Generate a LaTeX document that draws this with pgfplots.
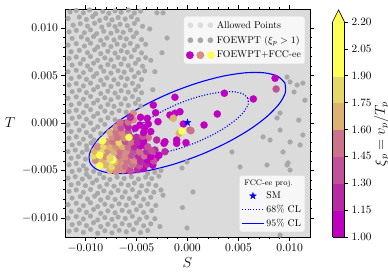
\documentclass[border=0pt]{standalone}
\usepackage{fix-cm}
\usepackage{pgfplots}
\pgfplotsset{compat=1.18}
\definecolor{bgallow}{RGB}{219,219,219}
\definecolor{foegray}{RGB}{168,168,168}
\definecolor{alwlg}{RGB}{220,220,220}
\definecolor{lgfill}{RGB}{247,247,247}
\definecolor{lgborder}{RGB}{226,226,226}
\definecolor{cA}{RGB}{192,0,192}
\definecolor{cB}{RGB}{184,42,164}
\definecolor{cC}{RGB}{194,80,155}
\definecolor{cD}{RGB}{204,114,141}
\definecolor{cE}{RGB}{213,142,127}
\definecolor{cF}{RGB}{221,178,113}
\definecolor{cG}{RGB}{230,216,104}
\definecolor{cH}{RGB}{255,255,85}
\pgfdeclareplotmark{fstar}{%
  \pgfpathmoveto{\pgfpointpolar{90}{\pgfplotmarksize}}%
  \pgfpathlineto{\pgfpointpolar{126}{0.4\pgfplotmarksize}}%
  \pgfpathlineto{\pgfpointpolar{162}{\pgfplotmarksize}}%
  \pgfpathlineto{\pgfpointpolar{198}{0.4\pgfplotmarksize}}%
  \pgfpathlineto{\pgfpointpolar{234}{\pgfplotmarksize}}%
  \pgfpathlineto{\pgfpointpolar{270}{0.4\pgfplotmarksize}}%
  \pgfpathlineto{\pgfpointpolar{306}{\pgfplotmarksize}}%
  \pgfpathlineto{\pgfpointpolar{342}{0.4\pgfplotmarksize}}%
  \pgfpathlineto{\pgfpointpolar{18}{\pgfplotmarksize}}%
  \pgfpathlineto{\pgfpointpolar{54}{0.4\pgfplotmarksize}}%
  \pgfpathclose
  \pgfusepathqfillstroke
}
\begin{document}
\begin{tikzpicture}
\useasboundingbox (-65pt,-39pt) rectangle (323pt,237pt);
\begin{axis}[
  at={(0,0)}, anchor=south west,
  width=245pt, height=228pt, scale only axis,
  xmin=-12, xmax=12, ymin=-12, ymax=12,
  axis background/.style={fill=bgallow},
  axis line style={line width=0.6pt},
  xtick={-10,-5,0,5,10},
  xticklabels={$-0.010$,$-0.005$,$0.000$,$0.005$,$0.010$},
  ytick={-10,-5,0,5,10},
  yticklabels={$-0.010$,$-0.005$,$0.000$,$0.005$,$0.010$},
  minor tick num=4,
  tick align=outside,
  major tick length=3.5pt, minor tick length=2pt,
  tick style={black, line width=0.6pt},
  ticklabel style={font=\fontsize{11.7}{13}\selectfont},
  xlabel={$S$}, ylabel={$T$},
  label style={font=\fontsize{14.5}{16}\selectfont},
  xlabel style={at={(axis description cs:0.5,-0.11)}, anchor=center},
  ylabel style={at={(axis description cs:-0.224,0.5)}, anchor=center, rotate=-90},
  colormap={fcc}{rgb255=(192,0,192) rgb255=(184,42,164) rgb255=(194,80,155) rgb255=(204,114,141) rgb255=(213,142,127) rgb255=(221,178,113) rgb255=(230,216,104) rgb255=(255,255,85) rgb255=(255,255,85)},
  colormap access=piecewise constant,
  point meta min=1, point meta max=2.2,
  colorbar sampled={surf,mark=none,shader=flat mean},
  colorbar style={
    at={(parent axis.south east)}, anchor=south west, xshift=14pt,
    width=12pt, height=215pt, scale only axis,
    samples=9,
    axis background/.style={},
    xtick=\empty, xlabel={}, minor tick num=0,
    ytick={1,1.15,1.3,1.45,1.6,1.75,1.9,2.05,2.2},
    yticklabels={$1.00$,$1.15$,$1.30$,$1.45$,$1.60$,$1.75$,$1.90$,$2.05$,$2.20$},
    yticklabel pos=right, ytick pos=right,
    tick align=outside, major tick length=3.5pt,
    ticklabel style={font=\fontsize{11.2}{13}\selectfont},
    ylabel={$\xi_p = v_p/T_p$},
    every axis y label/.style={at={(axis description cs:1,0.48)}, xshift=37pt, anchor=center, rotate=90, font=\fontsize{14.5}{16}\selectfont},
    after end axis/.code={
      \fill[cH] ([xshift=0.4pt,yshift=-0.6pt]rel axis cs:0,1) rectangle ([xshift=-0.4pt,yshift=0.6pt]rel axis cs:1,1);
      \filldraw[fill=cH, draw=black, line width=0.6pt] (rel axis cs:0,1) -- (rel axis cs:0.5,1.056) -- (rel axis cs:1,1);
    },
  },
  legend style={at={(0.98,0.968)}, anchor=north east, font=\fontsize{9.8}{11.5}\selectfont,
    fill=lgfill, draw=lgborder, rounded corners=2.5pt, inner xsep=2pt, inner ysep=2.5pt, row sep=2.3pt},
  legend cell align=left,
]
% FOEWPT (xi_p > 1) points excluded by FCC-ee
\addplot[only marks, mark=*, mark size=2.4pt, mark options={draw=foegray, fill=foegray, line width=0.2pt}, forget plot] coordinates {
(-11.5,11.7) (-10.9,11.85) (-10.2,11.6) (-9.6,11.9) (-9.0,11.5) (-8.3,11.75) (-7.7,11.55) (-7.1,11.8) (-6.5,11.65) (-5.8,11.88) (-5.2,11.58) (-4.6,11.78)
(-11.7,11.0) (-10.6,11.15) (-9.9,10.9) (-9.3,11.2) (-8.6,10.8) (-8.0,11.05) (-7.4,10.85) (-6.8,11.1) (-6.1,10.95) (-5.5,11.18) (-4.9,10.88)
(-11.2,10.3) (-10.5,10.45) (-9.8,10.2) (-9.1,10.5) (-8.4,10.1) (-7.7,10.35) (-7.1,10.15) (-6.6,10.4) (-5.9,10.25) (-5.2,10.48) (-4.4,10.18)
(-11.6,9.6) (-10.9,9.75) (-10.1,9.5) (-9.5,9.8) (-8.9,9.4) (-8.2,9.65) (-7.5,9.45) (-6.9,9.7) (-6.3,9.55) (-5.6,9.78) (-5.0,9.48)
(-11.3,8.9) (-10.4,9.05) (-9.8,8.8) (-9.2,9.1) (-8.5,8.7) (-7.9,8.95) (-7.2,8.75) (-6.6,9.0) (-6.0,8.85) (-5.3,9.08) (-4.5,8.78)
(-11.7,8.2) (-10.9,8.35) (-10.1,8.1) (-9.5,8.4) (-8.8,8.0) (-8.2,8.25) (-7.5,8.05) (-6.9,8.3) (-6.2,8.15) (-5.6,8.38) (-4.9,8.08) (-4.1,8.28)
(-11.4,7.5) (-10.6,7.65) (-9.8,7.4) (-9.1,7.7) (-8.5,7.3) (-7.8,7.55) (-7.1,7.35) (-6.5,7.6) (-5.9,7.45) (-5.2,7.68) (-4.5,7.38)
(-11.6,6.8) (-10.9,6.95) (-10.2,6.7) (-9.5,7.0) (-8.8,6.6) (-8.1,6.85) (-7.5,6.65) (-6.8,6.9) (-6.2,6.75) (-5.5,6.98) (-4.8,6.68) (-4.1,6.88)
(-11.3,6.1) (-10.5,6.25) (-9.8,6.0) (-9.2,6.3) (-8.5,5.9) (-7.8,6.15) (-7.2,5.95) (-6.5,6.2) (-5.8,6.05) (-5.1,6.28) (-4.4,5.98)
(-11.7,5.4) (-10.9,5.55) (-10.2,5.3) (-9.5,5.6) (-8.9,5.2) (-8.2,5.45) (-7.5,5.25) (-6.8,5.5) (-6.2,5.35) (-5.5,5.58) (-4.8,5.28) (-4.2,5.48)
(-11.4,4.7) (-10.6,4.85) (-9.9,4.6) (-9.2,4.9) (-8.5,4.5) (-7.9,4.75) (-7.2,4.55) (-6.5,4.8) (-5.9,4.65) (-5.2,4.88) (-4.5,4.58)
(-11.6,4.0) (-10.9,4.15) (-10.2,3.9) (-9.5,4.2) (-8.8,3.8) (-8.2,4.05) (-7.5,3.85) (-6.8,4.1) (-6.1,3.95) (-5.4,4.18) (-4.8,3.88)
(-11.3,3.3) (-10.6,3.45) (-9.9,3.2) (-9.2,3.5) (-8.5,3.1) (-7.8,3.35) (-7.1,3.15) (-6.5,3.4) (-5.8,3.25) (-5.1,3.48) (-4.5,3.18)
(-11.7,2.6) (-10.9,2.75) (-10.2,2.5) (-9.5,2.8) (-8.8,2.4) (-8.1,2.65) (-7.5,2.45) (-6.8,2.7) (-6.1,2.55) (-5.4,2.78) (-4.8,2.48)
(-11.4,1.9) (-10.6,2.05) (-9.9,1.8) (-9.2,2.1) (-8.5,1.7) (-7.8,1.95) (-7.2,1.75) (-6.5,2.0) (-5.8,1.85) (-5.1,2.08) (-4.6,1.78)
(-11.6,1.2) (-10.9,1.35) (-10.2,1.1) (-9.5,1.4) (-8.8,1.0) (-8.1,1.25) (-7.4,1.05) (-6.7,1.3) (-6.0,1.15)
(-11.3,0.5) (-10.6,0.65) (-9.9,0.4) (-9.2,0.7) (-8.5,0.3) (-7.8,0.55) (-7.1,0.35)
(-11.7,-0.2) (-10.9,-0.05) (-10.2,-0.3) (-9.5,0.0) (-8.8,-0.4) (-8.1,-0.15)
(-11.4,-0.9) (-10.6,-0.75) (-9.9,-1.0) (-9.2,-0.7) (-8.5,-1.1)
(-11.6,-1.6) (-10.9,-1.45) (-10.2,-1.7) (-9.5,-1.4) (-9.15,-1.8)
(-11.3,-2.3) (-10.6,-2.15) (-9.9,-2.4) (-9.45,-2.1)
(-11.7,-3.0) (-11.0,-2.85) (-10.3,-3.1) (-9.85,-2.8)
(-11.4,-3.7) (-10.7,-3.55) (-10.0,-3.8)
(-11.6,-4.4) (-10.9,-4.25) (-10.2,-4.5) (-9.9,-4.9)
(-11.3,-5.1) (-10.6,-4.95) (-9.9,-5.4) (-9.2,-5.1) (-8.6,-5.35) (-3.9,-5.3) (-3.2,-5.2) (-2.6,-5.0)
(-11.7,-5.8) (-11.0,-5.65) (-10.3,-5.9) (-9.6,-5.7) (-8.9,-6.0) (-8.2,-5.75) (-7.6,-5.95) (-6.9,-5.7) (-6.2,-5.85) (-5.5,-5.65) (-4.8,-5.9) (-4.1,-5.7) (-3.5,-5.85) (-2.8,-5.6)
(-11.4,-6.5) (-10.7,-6.35) (-10.0,-6.6) (-9.3,-6.3) (-8.6,-6.7) (-7.9,-6.45) (-7.2,-6.65) (-6.5,-6.4) (-5.8,-6.55) (-5.2,-6.32) (-4.5,-6.62) (-3.8,-6.42) (-3.1,-6.58)
(-11.6,-7.2) (-10.9,-7.05) (-10.2,-7.3) (-9.5,-7.0) (-8.8,-7.4) (-8.2,-7.15) (-7.5,-7.35) (-6.8,-7.1) (-6.1,-7.25) (-5.4,-7.02) (-4.7,-7.32) (-4.0,-7.12) (-3.3,-7.28) (-2.6,-7.05)
(-11.3,-7.9) (-10.5,-7.75) (-9.8,-8.0) (-9.1,-7.7) (-8.5,-8.1) (-7.8,-7.85) (-7.1,-8.05) (-6.4,-7.8) (-5.7,-7.95) (-5.0,-7.72) (-4.3,-8.02) (-3.6,-7.82)
(-11.7,-8.6) (-10.9,-8.45) (-10.2,-8.7) (-9.5,-8.4) (-8.8,-8.8) (-8.1,-8.55) (-7.4,-8.75) (-6.7,-8.5) (-6.0,-8.65) (-5.3,-8.42) (-4.6,-8.72) (-3.9,-8.52) (-3.1,-8.68)
(-11.4,-9.3) (-10.6,-9.15) (-9.9,-9.4) (-9.2,-9.1) (-8.5,-9.5) (-7.8,-9.25) (-7.1,-9.45) (-6.4,-9.2) (-5.7,-9.35) (-5.0,-9.12) (-4.3,-9.42) (-3.5,-9.22)
(-11.7,-10.0) (-10.9,-9.85) (-10.2,-10.1) (-9.5,-9.8) (-8.8,-10.2) (-8.1,-9.95) (-7.4,-10.15) (-6.8,-9.9) (-6.1,-10.05) (-5.4,-9.82) (-4.7,-10.12) (-4.0,-9.92) (-3.2,-10.08)
(-11.3,-10.7) (-10.6,-10.55) (-9.9,-10.8) (-9.2,-10.5) (-8.5,-10.9) (-7.8,-10.65) (-7.1,-10.85) (-6.4,-10.6) (-5.7,-10.75) (-5.0,-10.52) (-4.3,-10.82) (-3.6,-10.62)
(-11.6,-11.4) (-10.9,-11.25) (-10.2,-11.5) (-9.5,-11.2) (-8.8,-11.6) (-8.1,-11.35) (-7.4,-11.55) (-6.7,-11.3) (-6.0,-11.45) (-5.3,-11.22) (-4.6,-11.52) (-3.9,-11.32)
(-2.4,11.6) (-3.0,11.6) (-2.0,8.95) (-2.5,7.4) (-3.2,5.4) (-3.4,3.5) (-3.7,9.9) (-3.6,6.6)
(9.75,4.84) (10.05,4.32) (10.44,3.26) (10.74,4.0) (11.3,4.2) (9.07,1.05) (8.77,0.53) (9.07,-0.74)
(7.4,-1.47) (8.09,-1.79) (9.36,-3.05) (10.05,-2.0) (11.03,-2.32) (11.3,-1.26) (9.85,-4.2) (7.79,-4.42)
(4.36,-3.05) (5.15,-4.63) (-0.05,-4.1) (-0.54,-4.74) (0.54,-7.26) (-0.05,-11.05) (9.75,-4.42) (10.05,-4.95)
(9.07,-11.8) (-2.4,-7.6) (-0.5,-8.9) (-2.7,-10.9) (11.5,2.4) (10.9,0.3)
};
% FOEWPT points allowed by FCC-ee, coloured by xi_p
\addplot[scatter, only marks, mark=*, mark size=3.6pt, mark options={line width=0.2pt}, scatter/use mapped color={draw=mapped color, fill=mapped color}, point meta=explicit, forget plot] table[x=S, y=T, meta=m] {
S T m
8.58 4.71 1.05
8.68 3.58 1.35
3.61 3.13 1.05
6.45 2.53 1.05
2.92 0.95 1.05
1.62 -0.21 1.05
0.25 -0.74 1.40
-1.23 2.71 1.05
-1.23 1.02 1.05
-0.41 -0.11 1.10
-1.55 0.66 1.65
-0.80 -1.08 1.70
-0.15 -2.07 1.05
-1.06 -2.14 1.10
-2.21 -1.97 1.05
-3.02 -1.79 1.20
-3.84 -1.55 1.50
-3.09 -3.72 1.05
-2.21 -3.02 1.15
-4.00 -2.56 1.10
-4.88 -1.79 1.05
-5.12 -0.56 1.05
-5.31 0.32 1.65
-6.13 -0.03 1.20
-3.35 1.89 1.05
-1.72 0.84 1.10
-5.31 1.02 1.60
-2.89 0.14 1.05
-3.12 1.08 1.05
-3.94 0.49 1.10
-0.74 1.19 1.05
-2.30 -2.14 1.05
-3.19 -2.84 1.25
-4.00 -4.07 1.05
-5.96 -4.95 1.10
-6.94 -4.95 1.40
-4.66 -0.21 1.05
-3.84 -0.11 1.05
-1.39 0.49 1.70
0.34 -0.81 1.40
-1.06 -1.79 1.05
-7.6 -5.0 1.70
-7.0 -5.1 1.60
-6.3 -4.95 1.55
-5.6 -5.05 1.35
-4.9 -4.9 1.25
-4.3 -4.8 1.10
-8.0 -4.4 1.75
-7.4 -4.6 1.80
-6.8 -4.45 1.65
-6.1 -4.55 1.50
-5.4 -4.4 1.45
-4.7 -4.5 1.30
-4.0 -4.35 1.15
-3.4 -4.45 1.05
-9.0 -3.95 1.60
-8.4 -4.05 1.70
-7.1 -4.1 1.70
-6.5 -3.9 1.55
-5.9 -4.0 1.40
-5.2 -3.95 1.60
-4.6 -4.05 1.20
-3.9 -3.9 1.10
-3.3 -4.0 1.30
-9.2 -3.45 1.80
-8.0 -3.55 1.60
-6.7 -3.45 1.50
-6.1 -3.55 1.65
-5.5 -3.4 1.35
-4.8 -3.5 1.25
-4.2 -3.45 1.45
-3.6 -3.55 1.10
-2.8 -3.4 1.05
-9.1 -2.95 1.70
-8.5 -3.0 1.80
-7.8 -2.9 1.60
-7.2 -3.05 1.75
-6.6 -2.95 1.45
-6.0 -3.0 1.60
-5.3 -2.9 1.30
-4.7 -3.05 1.50
-4.0 -3.0 1.15
-3.5 -2.95 1.35
-8.8 -2.5 1.65
-8.2 -2.45 1.80
-7.6 -2.55 1.70
-7.0 -2.5 1.55
-6.4 -2.45 1.70
-5.8 -2.55 1.40
-5.2 -2.5 1.25
-4.6 -2.4 1.10
-3.9 -2.5 1.30
-7.9 -2.0 1.60
-7.3 -1.95 1.50
-6.7 -2.05 1.80
-6.1 -1.95 1.35
-5.5 -2.0 1.45
-4.9 -2.05 1.20
-4.3 -1.95 1.05
-7.4 -1.45 1.65
-6.8 -1.5 1.50
-6.2 -1.55 1.60
-5.6 -1.45 1.30
-5.0 -1.5 1.15
-4.4 -1.4 1.35
-7.6 -1.0 1.70
-7.0 -0.95 1.45
-6.4 -1.05 1.55
-5.8 -0.95 1.30
-4.3 -1.0 1.10
-3.6 -0.9 1.05
-7.0 -0.45 1.60
-6.5 -0.5 1.35
-5.8 -0.45 1.20
-4.2 -0.5 1.05
-6.6 0.05 1.50
-5.8 0.1 1.45
-5.6 0.6 1.25
-4.6 0.6 1.05
-8.6 -4.5 2.15
-7.3 -3.9 2.15
-8.6 -3.4 1.95
-7.6 -3.7 1.85
-8.3 -1.85 2.20
-5.74 -1.51 2.20
-0.54 -0.84 2.20
};
% FCC-ee 95% CL
\addplot[blue, line width=1.1pt, smooth, forget plot] coordinates {
(9.54,4.21) (8.84,4.91) (7.54,5.28) (5.73,5.29) (3.52,4.94) (1.08,4.25) (-1.44,3.27) (-3.86,2.07)
(-6.02,0.73) (-7.76,-0.66) (-8.98,-2.01) (-9.59,-3.22) (-9.54,-4.21) (-8.84,-4.91) (-7.54,-5.28) (-5.73,-5.29)
(-3.52,-4.94) (-1.08,-4.25) (1.44,-3.27) (3.86,-2.07) (6.02,-0.73) (7.76,0.66) (8.98,2.01) (9.59,3.22) (9.54,4.21)
};
% FCC-ee 68% CL
\addplot[blue, line width=1.1pt, dash pattern=on 1.1pt off 1.7pt, smooth, forget plot] coordinates {
(5.91,2.61) (5.48,3.04) (4.67,3.27) (3.55,3.28) (2.18,3.06) (0.67,2.64) (-0.89,2.03) (-2.39,1.28)
(-3.73,0.45) (-4.81,-0.41) (-5.57,-1.25) (-5.95,-2.00) (-5.91,-2.61) (-5.48,-3.04) (-4.67,-3.27) (-3.55,-3.28)
(-2.18,-3.06) (-0.67,-2.64) (0.89,-2.03) (2.39,-1.28) (3.73,-0.45) (4.81,0.41) (5.57,1.25) (5.95,2.00) (5.91,2.61)
};
% SM
\addplot[only marks, mark=fstar, mark size=3.6pt, mark options={draw=blue, fill=blue, line width=0.3pt}, forget plot] coordinates {(0,0.05)};
\addlegendimage{legend image code/.code={\fill[alwlg] (0pt,0pt) circle (2.6pt) (10pt,0pt) circle (2.6pt) (20pt,0pt) circle (2.6pt);}}
\addlegendentry{Allowed Points}
\addlegendimage{legend image code/.code={\fill[foegray] (0pt,0pt) circle (2.6pt) (10pt,0pt) circle (2.6pt) (20pt,0pt) circle (2.6pt);}}
\addlegendentry{FOEWPT ($\xi_p > 1$)}
\addlegendimage{legend image code/.code={\fill[cA] (-0.5pt,0pt) circle (3.7pt); \fill[cE] (10pt,0pt) circle (3.7pt); \fill[cH] (20.5pt,0pt) circle (3.7pt);}}
\addlegendentry{FOEWPT+FCC-ee}
\end{axis}
\begin{axis}[
  at={(0,0)}, anchor=south west,
  width=245pt, height=228pt, scale only axis,
  xmin=-12, xmax=12, ymin=-12, ymax=12,
  hide axis,
  legend style={at={(0.98,0.022)}, anchor=south east, font=\fontsize{9.8}{11.5}\selectfont,
    fill=lgfill, draw=lgborder, rounded corners=2.5pt, inner xsep=2pt, inner ysep=2pt, row sep=1pt},
  legend cell align=left,
]
\addlegendimage{empty legend}
\addlegendentry{\fontsize{8}{9}\selectfont\hspace*{-22pt}FCC-ee proj.}
\addlegendimage{legend image code/.code={\begin{pgfscope}\pgfsetfillcolor{blue}\pgfsetstrokecolor{blue}\pgfsetlinewidth{0.3pt}\pgftransformshift{\pgfqpoint{11pt}{0pt}}\pgfsetplotmarksize{3.6pt}\pgfuseplotmark{fstar}\end{pgfscope}\path (0pt,0pt) (22pt,0pt);}}
\addlegendentry{SM}
\addlegendimage{legend image code/.code={\draw[blue, line width=1.1pt, dash pattern=on 1.1pt off 1.7pt] (0pt,0pt) -- (22pt,0pt);}}
\addlegendentry{68\% CL}
\addlegendimage{legend image code/.code={\draw[blue, line width=1.1pt] (0pt,0pt) -- (22pt,0pt);}}
\addlegendentry{95\% CL}
\end{axis}
\end{tikzpicture}
\end{document}
